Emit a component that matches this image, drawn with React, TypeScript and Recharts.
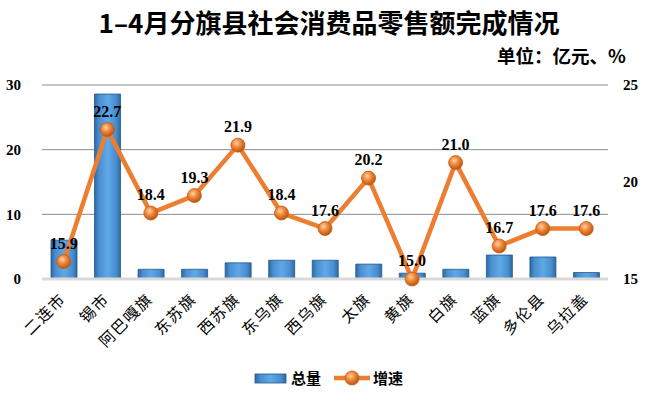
import React from 'react';
import {
    ComposedChart,
    Bar,
    Line,
    XAxis,
    YAxis,
    CartesianGrid,
    LabelList,
} from 'recharts';

const regions = ['二连市', '锡市', '阿巴嘎旗', '东苏旗', '西苏旗', '东乌旗', '西乌旗', '太旗', '黄旗', '白旗', '蓝旗', '多伦县', '乌拉盖'];
const totals = [6.0, 28.6, 1.5, 1.5, 2.5, 2.9, 2.9, 2.3, 0.9, 1.5, 3.7, 3.4, 1.0];
const growth = [15.9, 22.7, 18.4, 19.3, 21.9, 18.4, 17.6, 20.2, 15.0, 21.0, 16.7, 17.6, 17.6];
const leftTicks = [0, 10, 20, 30];
const rightTicks = [15, 20, 25];

const data = regions.map((name, i) => ({ name, total: totals[i], growth: growth[i] }));

const numFont = '"Liberation Serif", "Times New Roman", serif';
const cjkFont = '"Noto Sans CJK SC", sans-serif';

// rotated category labels, anchored at their right end just below the axis
const XTick = (props: any) => {
    const { x, y, payload } = props;
    const ax = x + 3;
    const ay = y + 19;
    return (
        <text
            x={ax}
            y={ay}
            transform={`rotate(-45 ${ax} ${ay})`}
            textAnchor="end"
            fontSize={15.5}
            letterSpacing={1.5}
            fontFamily={cjkFont}
            fill="#000"
        >
            {payload.value}
        </text>
    );
};

const Dot = (props: any) => {
    const { cx, cy } = props;
    if (cx == null || cy == null) return null;
    return <circle cx={cx} cy={cy} r={7} fill="url(#dotGrad)" stroke="#c55a11" strokeWidth={0.8} />;
};

export default function App() {
    return (
        <div style={{ position: 'absolute', left: 0, top: 0, width: 652, height: 393, background: '#fff' }}>
            <div
                style={{
                    position: 'absolute',
                    left: 0,
                    top: 4,
                    width: 658,
                    textAlign: 'center',
                    fontFamily: cjkFont,
                    fontWeight: 'bold',
                    fontSize: 26,
                    lineHeight: '36px',
                }}
            >
                1–4月分旗县社会消费品零售额完成情况
            </div>
            <div
                style={{
                    position: 'absolute',
                    left: 497,
                    top: 43,
                    fontFamily: cjkFont,
                    fontWeight: 'bold',
                    fontSize: 18.5,
                    lineHeight: '24px',
                }}
            >
                单位：亿元、%
            </div>
            <ComposedChart width={652} height={393} data={data} margin={{ top: 85, right: 0, left: 0, bottom: 34 }}>
                <defs>
                    <linearGradient id="barGrad" x1="0" y1="0" x2="1" y2="0">
                        <stop offset="0%" stopColor="#2c6aa3" />
                        <stop offset="18%" stopColor="#4a8fd0" />
                        <stop offset="50%" stopColor="#5fa8e6" />
                        <stop offset="82%" stopColor="#4a8fd0" />
                        <stop offset="100%" stopColor="#2c6aa3" />
                    </linearGradient>
                    <radialGradient id="dotGrad" cx="40%" cy="35%" r="65%">
                        <stop offset="0%" stopColor="#ffd2a8" />
                        <stop offset="45%" stopColor="#f08a3c" />
                        <stop offset="100%" stopColor="#b8560f" />
                    </radialGradient>
                </defs>
                <CartesianGrid yAxisId="left" vertical={false} stroke="#8c8c8c" strokeWidth={1} />
                <XAxis
                    dataKey="name"
                    interval={0}
                    height={80}
                    tickLine={false}
                    tickSize={0}
                    axisLine={{ stroke: '#d9d9d9', strokeWidth: 3 }}
                    tick={<XTick />}
                />
                <YAxis
                    yAxisId="left"
                    domain={[0, 30]}
                    ticks={leftTicks}
                    width={42}
                    axisLine={false}
                    tickLine={false}
                    tickSize={0}
                    tickMargin={21}
                    tick={{ fontSize: 15, fontWeight: 'bold', fill: '#000', fontFamily: numFont }}
                />
                <YAxis
                    yAxisId="right"
                    orientation="right"
                    domain={[15, 25]}
                    ticks={rightTicks}
                    width={44}
                    axisLine={false}
                    tickLine={false}
                    tickSize={0}
                    tickMargin={15}
                    tick={{ fontSize: 15, fontWeight: 'bold', fill: '#000', fontFamily: numFont, textAnchor: 'start' }}
                />
                <Bar
                    yAxisId="left"
                    dataKey="total"
                    barSize={26}
                    fill="url(#barGrad)"
                    stroke="#24578a"
                    strokeWidth={0.8}
                    isAnimationActive={false}
                />
                <Line
                    yAxisId="right"
                    dataKey="growth"
                    stroke="#ed7d31"
                    strokeWidth={4.5}
                    dot={<Dot />}
                    activeDot={false}
                    isAnimationActive={false}
                >
                    <LabelList
                        dataKey="growth"
                        position="top"
                        offset={13}
                        formatter={(v: any) => Number(v).toFixed(1)}
                        style={{ fontSize: 16, fontWeight: 'bold', fill: '#000', fontFamily: numFont }}
                    />
                </Line>
            </ComposedChart>
            <div
                style={{
                    position: 'absolute',
                    left: 254,
                    top: 367,
                    display: 'flex',
                    alignItems: 'center',
                    fontFamily: cjkFont,
                    fontWeight: 'bold',
                    fontSize: 15,
                    lineHeight: '22px',
                }}
            >
                <svg width={34} height={12} style={{ marginRight: 3 }}>
                    <rect x={1} y={2} width={31} height={9} fill="url(#barGrad)" stroke="#24578a" strokeWidth={0.8} />
                </svg>
                <span>总量</span>
                <svg width={38} height={16} style={{ marginLeft: 12, marginRight: 2 }}>
                    <line x1={1} y1={8} x2={37} y2={8} stroke="#ed7d31" strokeWidth={4.5} />
                    <circle cx={19} cy={8} r={7} fill="url(#dotGrad)" stroke="#c55a11" strokeWidth={0.8} />
                </svg>
                <span>增速</span>
            </div>
        </div>
    );
}
